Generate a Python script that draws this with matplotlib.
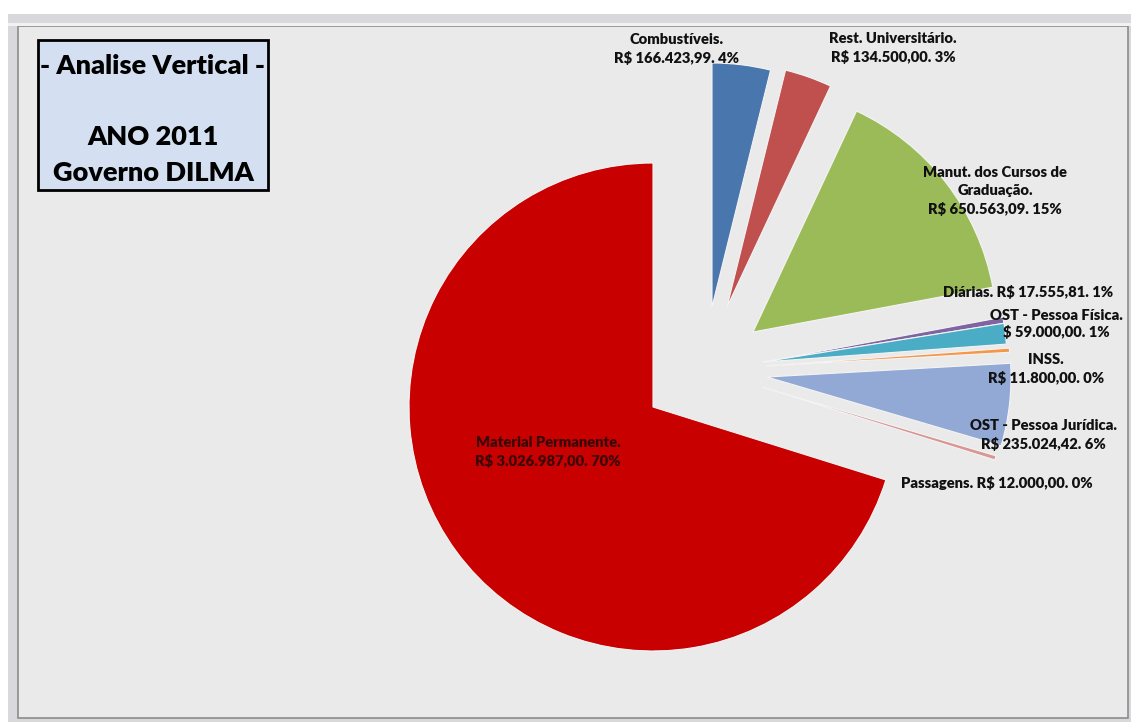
import matplotlib
matplotlib.use("Agg")
import matplotlib.pyplot as plt
from matplotlib.patches import Rectangle

plt.rcParams['font.family'] = ['Lato', 'DejaVu Sans']

# ---------------- data (ANO 2011) ----------------
categorias = ["Combustíveis", "Rest. Universitário", "Manut. dos Cursos de Graduação",
              "Diárias", "OST - Pessoa Física", "INSS", "OST - Pessoa Jurídica",
              "Passagens", "Material Permanente"]
valores = [166423.99, 134500.00, 650563.09, 17555.81, 59000.00, 11800.00,
           235024.42, 12000.00, 3026987.00]
rotulos = ["Combustíveis.\nR$ 166.423,99. 4%",
           "Rest. Universitário.\nR$ 134.500,00. 3%",
           "Manut. dos Cursos de\nGraduação.\nR$ 650.563,09. 15%",
           "Diárias. R$ 17.555,81. 1%",
           "OST - Pessoa Física.\n$ 59.000,00. 1%",
           "INSS.\nR$ 11.800,00. 0%",
           "OST - Pessoa Jurídica.\nR$ 235.024,42. 6%",
           "Passagens. R$ 12.000,00. 0%",
           "Material Permanente.\nR$ 3.026.987,00. 70%"]
cores = ["#4A76AE", "#C0504D", "#9BBB59", "#8064A2", "#4BACC6", "#F79646",
         "#93A9D5", "#D99694", "#C80000"]

# deslocamento de cada fatia (pixels) - "explode" estilo excel
desloc = [(59, 100), (74, 100), (100, 75), (110, 45), (110, 45), (113, 41),
          (114, 30), (109, 20), (0, 0)]
# posicao dos rotulos (pixels da imagem, y para baixo)
pos_rot = [(677, 49), (893, 48), (995, 191), (1028, 292), (1056, 324),
           (1046, 369), (1043, 435), (997, 483), (548, 452)]
esp_linha = [1.45, 1.45, 1.45, 1.45, 1.2, 1.45, 1.45, 1.45, 1.45]

W, H = 1131, 722
fig = plt.figure(figsize=(W / 100, H / 100), dpi=100)
ax = fig.add_axes([0, 0, 1, 1])

centro = (653, H - 407)
raio = 244
wedges, _ = ax.pie(valores, colors=cores, startangle=90, counterclock=False,
                   center=centro, radius=raio,
                   wedgeprops=dict(edgecolor="#F4F4F4", linewidth=0.8))
for w, (dx, dy) in zip(wedges, desloc):
    w.set_center((centro[0] + dx, centro[1] + dy))

ax.set_xlim(0, W)
ax.set_ylim(0, H)
ax.set_aspect("equal")
ax.axis("off")

# moldura / fundo da janela
ax.add_patch(Rectangle((0, 0), W, H, facecolor="white", edgecolor="none", zorder=-10))
ax.add_patch(Rectangle((8, 0), W - 8, H - 14, facecolor="#D9D9DD", edgecolor="none", zorder=-9))
ax.add_patch(Rectangle((18, 4), 1110, H - 30, facecolor="#EAEAEA", edgecolor="#8C8C8C",
                       linewidth=1.2, zorder=-8))
ax.add_patch(Rectangle((8, H - 26), W - 8, 3, facecolor="#F2F2F2", edgecolor="none", zorder=-8))

# rotulos
for i, (txt, (x, y)) in enumerate(zip(rotulos, pos_rot)):
    cor = "#3A0808" if i == 8 else "#111111"
    ax.text(x, H - y, txt, ha="center", va="center", fontsize=10.6,
            fontweight="heavy", color=cor, linespacing=esp_linha[i])

# caixa do titulo
ax.add_patch(Rectangle((38, H - 190), 230, 150, facecolor="#D4E0F2", edgecolor="black",
                       linewidth=2, zorder=3))
ax.text(153, H - 66, "- Analise Vertical -", ha="center", va="center", fontsize=19.5,
        fontweight="heavy", zorder=4)
ax.text(153, H - 137, "ANO 2011", ha="center", va="center", fontsize=19.5,
        fontweight="heavy", zorder=4)
ax.text(153, H - 173, "Governo DILMA", ha="center", va="center", fontsize=19.5,
        fontweight="heavy", zorder=4)

fig.savefig("out.png", dpi=100)
